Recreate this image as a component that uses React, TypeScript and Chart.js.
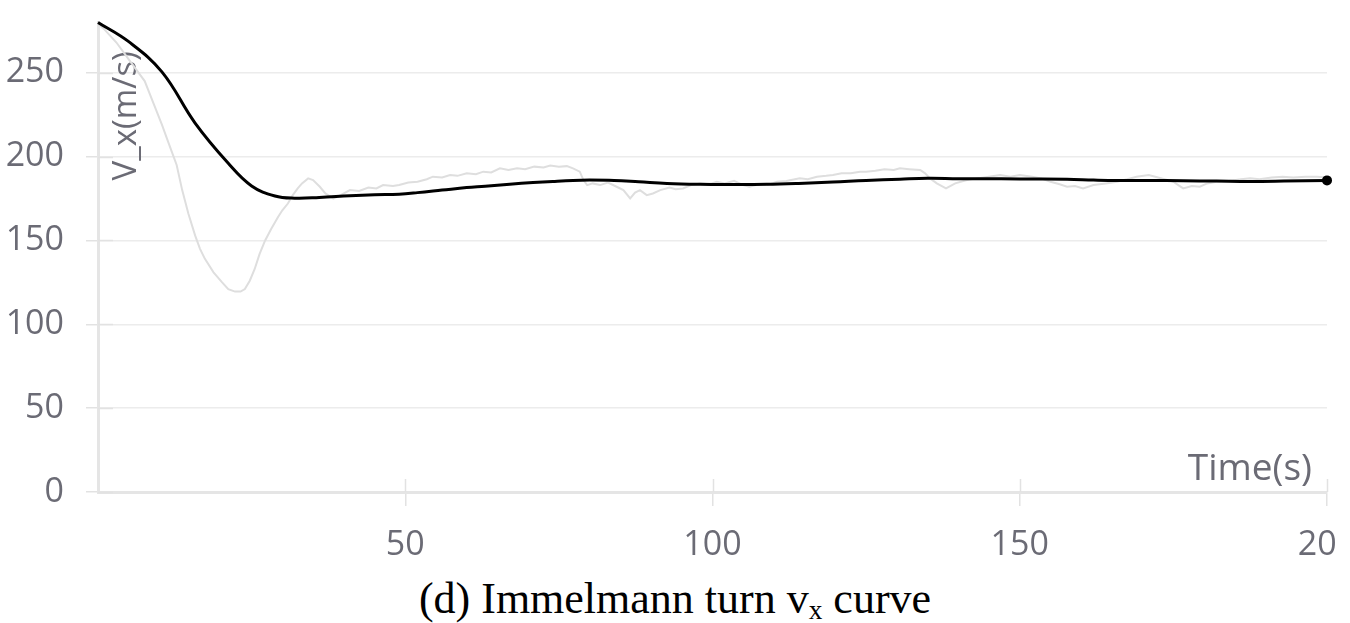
import React, { useEffect, useRef } from "react";
import { Chart, registerables } from "chart.js";

Chart.register(...registerables);

// Smoothed v_x curve (black)
const smoothTime = [0, 5, 10.4, 15.8, 21.2, 25, 28.8, 32, 36, 41, 45, 49, 52, 56, 60, 63, 67, 70.8, 74, 77.3, 80, 84, 88, 92.6, 98, 103, 108.8, 114, 119.6, 125, 130.5, 135, 140, 144, 150, 157.7, 162, 165.8, 171, 176.6, 182, 187.5, 193, 200];
const smoothVx = [280, 268.5, 250.5, 220, 196, 182.5, 176.5, 175.2, 175.6, 176.6, 177.2, 177.6, 178.5, 180, 181.5, 182.3, 183.5, 184.5, 185.2, 185.8, 186, 185.8, 185, 184, 183.5, 183.4, 183.5, 184, 184.8, 185.8, 186.5, 187, 186.8, 186.8, 186.6, 186.5, 186, 185.7, 185.7, 185.6, 185.4, 185.2, 185.4, 185.8];

// Raw v_x curve (light gray)
const rawTime = [0, 1, 3, 5, 7.6, 9, 10.4, 11.3, 12, 12.8, 13.7, 14.7, 15.8, 16.6, 17.4, 18.8, 20.2, 21.2, 22.3, 23.2, 23.9, 24.7, 25.5, 26.3, 27.2, 28.2, 29.3, 30, 30.9, 31.7, 32.5, 33.2, 34.2, 35, 36.1, 37, 38.3, 39.5, 41, 42.5, 44, 45.3, 46.4, 48, 49, 50.5, 52, 53.5, 54.5, 56, 57.3, 58.5, 60, 61.5, 62.7, 64, 65.4, 66.8, 68.2, 69.5, 71, 72.5, 73.6, 75, 76.3, 77.3, 78.4, 79, 79.6, 80.5, 81.7, 83, 84.4, 85.5, 86.6, 87.4, 88.2, 89.3, 90.3, 91.5, 93, 94, 95.2, 96.5, 98, 99.5, 100.7, 102, 103.5, 105, 106, 107.5, 108.9, 110.5, 112, 114.2, 115.5, 117, 118.5, 119.6, 121, 122.5, 124, 125, 126.5, 128, 129.5, 130.5, 132, 133.8, 134.6, 135.4, 136.5, 138, 139.5, 141.4, 143, 145, 146.8, 148.5, 150, 152, 153.5, 155, 156.5, 157.7, 159, 160.3, 162, 164, 165.8, 167.5, 169, 171, 172.5, 174, 175, 175.8, 176.6, 178, 179.3, 180.5, 182, 184, 186, 187.5, 189, 191, 192.8, 194.5, 196.5, 198.4, 200];
const rawVx = [279, 276, 268, 258, 245, 232, 219, 210, 203, 195, 180, 166, 153, 145, 139, 131, 125, 121, 119.5, 119.5, 121, 126, 133, 142, 150, 157, 164, 168, 172, 177, 181, 184, 187, 186, 182, 178, 175, 177, 180, 179.5, 181.5, 181, 183, 182.5, 183, 184.5, 185, 186.5, 188, 187.5, 189, 188.5, 190, 189.5, 191, 190.5, 193, 192, 193, 192.5, 194, 193.5, 194.6, 194, 194.3, 193, 191, 186, 183, 184, 183, 184.5, 182, 180, 175, 178.5, 180, 177, 178, 180, 181.5, 180.5, 181, 183, 184, 183.5, 185, 184, 185.5, 183, 182, 183.5, 183, 185, 185.5, 187, 186.5, 188, 188.5, 189, 190, 190, 191, 191, 191.5, 192.5, 192, 193, 192.5, 192, 190, 187, 184, 181, 184, 186, 187, 188, 189, 188, 189, 188, 187, 185, 183.5, 182, 182.5, 181, 183, 184, 185, 186.5, 188, 189, 187.5, 186, 185, 183, 181, 182.5, 182, 184, 185, 185.5, 186.5, 187, 186.5, 187.5, 188, 187.5, 188, 188, 187.5];

const xTicks = [50, 100, 150, 200];
const yTicks = [0, 50, 100, 150, 200, 250];
const xTitle = "Time(s)";
const yTitle = "V_x(m/s)";

const LABEL_COLOR = "#6b6b75";
const FONT_FAMILY = "'Open Sans', 'Noto Sans', sans-serif";

export default function App() {
  const ref = useRef<HTMLCanvasElement>(null);

  useEffect(() => {
    const canvas = ref.current;
    if (!canvas) return;

    const axisDecor = {
      id: "axisDecor",
      beforeDatasetsDraw(chart: any) {
        const { ctx, chartArea, scales } = chart;
        ctx.save();
        // inner tick marks
        ctx.strokeStyle = "#e2e2e2";
        ctx.lineWidth = 1.5;
        for (const v of yTicks) {
          const y = Math.round(scales.y.getPixelForValue(v)) + 0.5;
          ctx.beginPath();
          ctx.moveTo(chartArea.left, y);
          ctx.lineTo(chartArea.left + 15, y);
          ctx.stroke();
        }
        for (const v of xTicks) {
          const x = Math.round(scales.x.getPixelForValue(v)) + 0.5;
          ctx.beginPath();
          ctx.moveTo(x, chartArea.bottom);
          ctx.lineTo(x, chartArea.bottom - 13);
          ctx.stroke();
        }
        // axis titles inside the plot
        ctx.fillStyle = LABEL_COLOR;
        ctx.textBaseline = "alphabetic";
        ctx.font = `37px ${FONT_FAMILY}`;
        ctx.textAlign = "right";
        ctx.fillText(xTitle, chartArea.right - 15, chartArea.bottom - 12);
        ctx.font = `33px ${FONT_FAMILY}`;
        ctx.translate(chartArea.left + 38, chartArea.top + 158);
        ctx.rotate(-Math.PI / 2);
        ctx.textAlign = "left";
        ctx.fillText(yTitle, 0, 0);
        ctx.restore();
      },
    };

    const lastIdx = smoothTime.length - 1;

    const chart = new Chart(canvas, {
      type: "line",
      data: {
        datasets: [
          {
            label: "smoothed",
            data: smoothTime.map((t, i) => ({ x: t, y: smoothVx[i] })),
            borderColor: "#000000",
            backgroundColor: "#000000",
            borderWidth: 3,
            tension: 0.4,
            pointRadius: (c: any) => (c.dataIndex === lastIdx ? 5 : 0),
            pointBorderWidth: 0,
            pointBackgroundColor: "#000000",
            clip: 10,
          } as any,
          {
            label: "raw",
            data: rawTime.map((t, i) => ({ x: t, y: rawVx[i] })),
            borderColor: "#dedede",
            borderWidth: 2,
            tension: 0,
            pointRadius: 0,
            clip: 6,
          } as any,
        ],
      },
      options: {
        animation: false,
        responsive: false,
        maintainAspectRatio: false,
        layout: { padding: { top: 37, right: 73, left: 0, bottom: 0 } },
        plugins: {
          legend: { display: false },
          tooltip: { enabled: false },
          title: { display: false },
        },
        scales: {
          x: {
            type: "linear",
            min: 0,
            max: 200,
            afterBuildTicks: (s: any) => {
              s.ticks = xTicks.map((v) => ({ value: v }));
            },
            afterFit: (s: any) => {
              s.height = 78;
            },
            ticks: {
              color: LABEL_COLOR,
              font: { family: FONT_FAMILY, size: 34 },
              padding: 19,
              maxRotation: 0,
              autoSkip: false,
            },
            grid: {
              drawOnChartArea: false,
              drawTicks: true,
              tickLength: 14,
              tickColor: "#e2e2e2",
              lineWidth: 1.5,
            },
            border: { color: "#e5e5e5", width: 3 },
          },
          y: {
            type: "linear",
            min: 0,
            max: 280,
            afterBuildTicks: (s: any) => {
              s.ticks = yTicks.map((v) => ({ value: v }));
            },
            afterFit: (s: any) => {
              s.width = 98;
            },
            ticks: {
              color: LABEL_COLOR,
              font: { family: FONT_FAMILY, size: 34 },
              padding: 22,
              autoSkip: false,
            },
            grid: {
              color: "#ececec",
              lineWidth: 1.5,
              drawTicks: true,
              tickLength: 12,
              tickColor: "#e2e2e2",
            },
            border: { color: "#e5e5e5", width: 3 },
          },
        },
      },
      plugins: [axisDecor],
    } as any);

    return () => chart.destroy();
  }, []);

  return (
    <div
      style={{
        position: "absolute",
        left: 0,
        top: 0,
        width: 1350,
        height: 623,
        background: "#ffffff",
        overflow: "hidden",
      }}
    >
      <div
        style={{
          position: "absolute",
          left: 0,
          top: 0,
          width: 1338,
          height: 572,
          overflow: "hidden",
        }}
      >
        <canvas
          ref={ref}
          width={1400}
          height={590}
          style={{ position: "absolute", left: 0, top: -20, width: 1400, height: 590 }}
        />
      </div>
      <div
        style={{
          position: "absolute",
          left: 0,
          top: 577,
          width: 1350,
          textAlign: "center",
          fontFamily: "'Liberation Serif', 'Times New Roman', serif",
          fontSize: 44,
          lineHeight: "44px",
          color: "#000",
          whiteSpace: "nowrap",
        }}
      >
        (d) Immelmann turn v
        <span style={{ fontSize: "0.62em", position: "relative", top: "0.22em" }}>x</span> curve
      </div>
    </div>
  );
}
